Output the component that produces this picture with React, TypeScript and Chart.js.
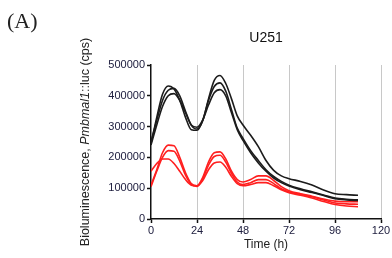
import React, { useEffect, useRef } from "react";
import { Chart, registerables } from "chart.js";

Chart.register(...registerables);

const times = [0, 3, 6, 9, 12, 15, 18, 21, 24, 27, 30, 33, 36, 39, 42, 45, 48, 52, 56, 60, 64, 68, 72, 78, 84, 90, 96, 102, 108];

const black1 = [250000, 320000, 385000, 418000, 424000, 400000, 350000, 305000, 292000, 320000, 390000, 450000, 466000, 440000, 390000, 335000, 305000, 272000, 235000, 190000, 158000, 140000, 131000, 122000, 110000, 94000, 82000, 79000, 77000];
const black2 = [245000, 330000, 405000, 432000, 422000, 385000, 330000, 290000, 288000, 320000, 385000, 430000, 442000, 415000, 355000, 295000, 262000, 222000, 190000, 160000, 138000, 122000, 110000, 98000, 88000, 78000, 68000, 64000, 62000];
const black3 = [240000, 305000, 365000, 400000, 407000, 385000, 345000, 305000, 298000, 322000, 370000, 410000, 420000, 400000, 345000, 290000, 255000, 215000, 182000, 155000, 133000, 118000, 107000, 95000, 86000, 76000, 66000, 62000, 60000];

const red1 = [110000, 160000, 215000, 240000, 238000, 200000, 150000, 115000, 108000, 135000, 185000, 215000, 218000, 195000, 155000, 128000, 120000, 128000, 140000, 140000, 125000, 105000, 92000, 82000, 74000, 65000, 58000, 56000, 56000];
const red2 = [105000, 155000, 200000, 222000, 220000, 188000, 142000, 112000, 106000, 130000, 175000, 203000, 207000, 185000, 148000, 120000, 112000, 118000, 128000, 128000, 115000, 98000, 88000, 80000, 72000, 62000, 52000, 49000, 48000];
const red3 = [155000, 180000, 195000, 195000, 180000, 155000, 128000, 110000, 108000, 125000, 160000, 182000, 185000, 168000, 138000, 115000, 108000, 112000, 118000, 118000, 108000, 95000, 85000, 77000, 68000, 57000, 47000, 42000, 40000];

const xTicks = [0, 24, 48, 72, 96, 120];
const yTicks = [0, 100000, 200000, 300000, 400000, 500000];

const titleText = "U251";
const xTitle = "Time (h)";
const yTitleParts = [
  { text: "Bioluminescence, ", italic: false },
  { text: "Pmbmal1", italic: true },
  { text: "::luc (cps)", italic: false },
];
const panelLabel = "(A)";

const BLACK = "#1c1c1c";
const RED = "#ff1f1f";
const FONT = "'Liberation Sans', Arial, sans-serif";

function toPoints(vals: number[]) {
  return vals.map((v, i) => ({ x: times[i], y: v }));
}

const textPlugin = {
  id: "textExtras",
  afterDraw(chart: any) {
    const ctx = chart.ctx;
    const area = chart.chartArea;
    // chart title centred on the plot area
    ctx.save();
    ctx.fillStyle = "#111";
    ctx.font = `14px ${FONT}`;
    ctx.textAlign = "center";
    ctx.textBaseline = "middle";
    ctx.fillText(titleText, (area.left + area.right) / 2, 38);
    ctx.restore();

    // y-axis title with italic gene name
    const size = 12.5;
    const cx = 86;
    const cy = (area.top + area.bottom) / 2;
    ctx.save();
    ctx.translate(cx, cy);
    ctx.rotate(-Math.PI / 2);
    ctx.fillStyle = "#222";
    ctx.textBaseline = "middle";
    ctx.textAlign = "left";
    let total = 0;
    const widths: number[] = [];
    for (const p of yTitleParts) {
      ctx.font = `${p.italic ? "italic " : ""}${size}px ${FONT}`;
      const w = ctx.measureText(p.text).width;
      widths.push(w);
      total += w;
    }
    let x = -total / 2;
    yTitleParts.forEach((p, i) => {
      ctx.font = `${p.italic ? "italic " : ""}${size}px ${FONT}`;
      ctx.fillText(p.text, x, 0);
      x += widths[i];
    });
    ctx.restore();
  },
};

export default function App() {
  const ref = useRef<HTMLCanvasElement | null>(null);

  useEffect(() => {
    document.body.style.margin = "0";
    const canvas = ref.current;
    if (!canvas) return;
    const mk = (label: string, vals: number[], color: string) => ({
      label,
      data: toPoints(vals),
      borderColor: color,
      backgroundColor: color,
      borderWidth: 1.6,
      pointRadius: 0,
      tension: 0.4,
      cubicInterpolationMode: "monotone" as const,
      fill: false,
    });
    const chart = new Chart(canvas, {
      type: "line",
      data: {
        datasets: [
          mk("black1", black1, BLACK),
          mk("black2", black2, BLACK),
          mk("black3", black3, BLACK),
          mk("red1", red1, RED),
          mk("red2", red2, RED),
          mk("red3", red3, RED),
        ],
      },
      plugins: [textPlugin],
      options: {
        animation: false,
        responsive: false,
        maintainAspectRatio: false,
        devicePixelRatio: 1,
        layout: { padding: { left: 0, right: 11, top: 65, bottom: 0 } },
        plugins: {
          legend: { display: false },
          tooltip: { enabled: false },
          title: { display: false },
        },
        scales: {
          x: {
            type: "linear",
            min: 0,
            max: 120,
            afterBuildTicks: (s: any) => {
              s.ticks = xTicks.map((v) => ({ value: v }));
            },
            afterFit: (s: any) => {
              s.height = 39;
            },
            ticks: {
              color: "#202040",
              font: { family: FONT, size: 11 },
              padding: 1,
              maxRotation: 0,
              autoSkip: false,
              callback: (v: any) => String(v),
            },
            grid: {
              color: (c: any) => (c.tick && c.tick.value === 0 ? "rgba(0,0,0,0)" : "#c8c8c8"),
              borderDash: [2, 2],
              lineWidth: 1,
              drawTicks: true,
              tickLength: 4,
              tickColor: "#111",
              tickBorderDash: [],
              tickWidth: 1.5,
            } as any,
            border: { display: true, color: "#111", width: 1.5 } as any,
            title: {
              display: true,
              text: xTitle,
              color: "#222",
              font: { family: FONT, size: 12 },
              padding: { top: 0, bottom: 6 },
            },
          },
          y: {
            type: "linear",
            min: 0,
            max: 500000,
            afterBuildTicks: (s: any) => {
              s.ticks = yTicks.map((v) => ({ value: v }));
            },
            afterFit: (s: any) => {
              s.width = 151;
            },
            ticks: {
              color: "#202040",
              font: { family: FONT, size: 11 },
              padding: 2,
              autoSkip: false,
              callback: (v: any) => String(v),
            },
            grid: {
              drawOnChartArea: false,
              drawTicks: true,
              tickLength: 4,
              tickColor: "#111",
              tickWidth: 1.5,
            } as any,
            border: { display: true, color: "#111", width: 1.5 },
          },
        },
      } as any,
    });
    return () => chart.destroy();
  }, []);

  return (
    <div style={{ position: "absolute", left: 0, top: 0, width: 392, height: 258, background: "#fff" }}>
      <canvas ref={ref} width={392} height={258} style={{ width: 392, height: 258, display: "block" }} />
      <div
        style={{
          position: "absolute",
          left: 7,
          top: 8,
          fontFamily: "'Liberation Serif', 'DejaVu Serif', serif",
          fontSize: 22,
          lineHeight: "26px",
          color: "#222",
        }}
      >
        {panelLabel}
      </div>
    </div>
  );
}
